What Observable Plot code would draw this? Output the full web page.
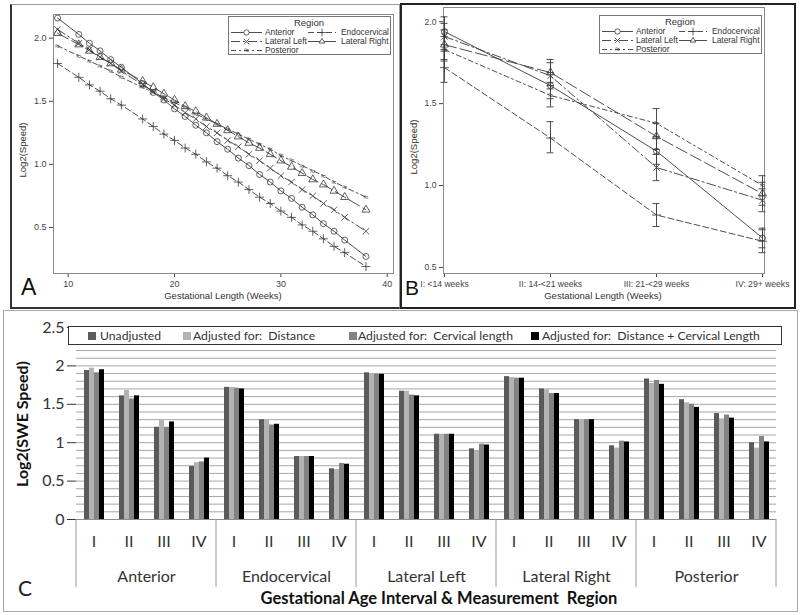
<!DOCTYPE html>
<html><head><meta charset="utf-8">
<script src="https://cdn.jsdelivr.net/npm/d3@7"></script>
<script src="https://cdn.jsdelivr.net/npm/@observablehq/plot@0.6"></script>
<style>
body{margin:0;background:#fff;}
#root{position:relative;width:800px;height:615px;overflow:hidden;background:#fff;font-family:"Liberation Sans",Arial,sans-serif;color:#333;}
.box{position:absolute;box-sizing:border-box;}
.abs{position:absolute;}
.rot{position:absolute;transform:translate(-50%,-50%) rotate(-90deg);white-space:nowrap;}
.ctr{position:absolute;transform:translate(-50%,-50%);white-space:nowrap;}
</style></head><body><div id="root"></div>
<script>
// ---------- Panel A data (fitted log2 speed by gestational week) ----------
const regionNames = ["Anterior","Endocervical","Lateral Left","Lateral Right","Posterior"];
const weeksA = [9,11,12,13,14,15,17,18,19,20,21,22,23,24,25,26,27,28,29,30,31,32,33,34,35,36,38];
const anteriorA     = [2.16,2.03,1.96,1.90,1.83,1.77,1.64,1.57,1.51,1.44,1.38,1.31,1.25,1.18,1.12,1.05,0.99,0.92,0.86,0.79,0.73,0.66,0.60,0.53,0.47,0.40,0.27];
const endocervicalA = [1.80,1.69,1.63,1.58,1.52,1.47,1.36,1.30,1.24,1.19,1.13,1.08,1.02,0.97,0.91,0.86,0.80,0.74,0.69,0.63,0.58,0.52,0.47,0.41,0.35,0.30,0.19];
const lateralLeftA  = [2.07,1.96,1.91,1.85,1.80,1.74,1.63,1.58,1.52,1.47,1.41,1.36,1.30,1.25,1.19,1.14,1.08,1.03,0.97,0.91,0.86,0.80,0.75,0.69,0.64,0.58,0.47];
const lateralRightA = [2.04,1.95,1.90,1.85,1.80,1.75,1.66,1.61,1.56,1.51,1.46,1.42,1.37,1.32,1.27,1.22,1.17,1.13,1.08,1.03,0.98,0.93,0.88,0.84,0.79,0.74,0.64];
const posteriorA    = [1.94,1.86,1.82,1.78,1.74,1.69,1.61,1.57,1.53,1.49,1.45,1.40,1.36,1.32,1.28,1.24,1.20,1.16,1.12,1.07,1.03,0.99,0.95,0.91,0.86,0.82,0.74];
const xTicksA = [10,20,30,40];
const yTicksAB = [0.5,1.0,1.5,2.0];

// ---------- Panel B data (means with confidence limits) ----------
const intervalsB = ["I: <14 weeks","II: 14-<21 weeks","III: 21-<29 weeks","IV: 29+ weeks"];
const anteriorB     = [1.94,1.61,1.21,0.68];
const endocervicalB = [1.72,1.29,0.82,0.66];
const lateralLeftB  = [1.91,1.67,1.11,0.91];
const lateralRightB = [1.86,1.69,1.30,0.95];
const posteriorB    = [1.83,1.55,1.38,1.00];
const anteriorLo     = [1.86,1.53,1.13,0.62];
const anteriorHi     = [2.03,1.69,1.29,0.74];
const endocervicalLo = [1.63,1.20,0.75,0.59];
const endocervicalHi = [1.82,1.39,0.89,0.73];
const lateralLeftLo  = [1.83,1.59,1.03,0.84];
const lateralLeftHi  = [1.99,1.75,1.19,0.98];
const lateralRightLo = [1.77,1.61,1.22,0.88];
const lateralRightHi = [1.95,1.77,1.38,1.02];
const posteriorLo    = [1.76,1.48,1.30,0.94];
const posteriorHi    = [1.91,1.63,1.47,1.06];

// ---------- Panel C data (bar chart) ----------
const intervalsC = ["I","II","III","IV"];
const adjustments = ["Unadjusted","Adjusted for:  Distance","Adjusted for:  Cervical length","Adjusted for:  Distance + Cervical Length"];
const unadjustedC = [1.94,1.61,1.20,0.69, 1.72,1.30,0.82,0.66, 1.91,1.67,1.11,0.92, 1.86,1.70,1.30,0.96, 1.83,1.56,1.38,1.00];
const distanceC   = [1.97,1.68,1.29,0.74, 1.72,1.30,0.82,0.65, 1.90,1.67,1.11,0.89, 1.85,1.69,1.30,0.93, 1.77,1.52,1.31,0.93];
const cervicalC   = [1.91,1.57,1.20,0.75, 1.71,1.23,0.82,0.73, 1.89,1.62,1.11,0.98, 1.84,1.64,1.30,1.02, 1.81,1.50,1.36,1.08];
const bothC       = [1.95,1.61,1.27,0.80, 1.70,1.24,0.82,0.72, 1.89,1.61,1.11,0.97, 1.84,1.64,1.30,1.01, 1.76,1.46,1.32,1.01];
const yTicksC = [0,0.5,1,1.5,2,2.5];
const gridC = [0.1,0.2,0.3,0.4,0.5,0.6,0.7,0.8,0.9,1.0,1.1,1.2,1.3,1.4,1.5,1.6,1.7,1.8,1.9,2.0,2.1,2.2,2.3,2.4,2.5];

// ---------- styles ----------
const seriesStyle = {
  "Anterior":      {dash: null,        symbol: "circle"},
  "Endocervical":  {dash: "6,3",       symbol: "plus"},
  "Lateral Left":  {dash: "9,3,2,3",   symbol: "times"},
  "Lateral Right": {dash: "12,4",      symbol: "triangle"},
  "Posterior":     {dash: "5,3,2,3",   symbol: null}
};
const barColors = ["#5a5a5a","#b3b3b3","#828282","#000000"];
const lineColor = "#3a3a3a";

const root = document.getElementById("root");
function addDiv(cls, css, html){ const d=document.createElement("div"); d.className=cls; Object.assign(d.style, css); d.innerHTML=html; root.appendChild(d); return d; }
function place(el, left, top){ el.style.position="absolute"; el.style.left=left+"px"; el.style.top=top+"px"; root.appendChild(el); }

// panel boxes
addDiv("box", {left:"10px", top:"4px", width:"390px", height:"305px", border:"1px solid #9a9a9a", borderLeft:"2px solid #333", borderBottom:"2px solid #333"}, "");
addDiv("box", {left:"3px", top:"310px", width:"795px", height:"302px", border:"1px solid #a8a8a8"}, "");

// ---------- Panel A ----------
const seriesA = [anteriorA, endocervicalA, lateralLeftA, lateralRightA, posteriorA];
const rowsA = [];
regionNames.forEach((r,i) => weeksA.forEach((w,j) => rowsA.push({region:r, week:w, v:seriesA[i][j]})));

function seriesMarks(rows, xKey){
  const marks = [];
  for (const r of regionNames){
    const data = rows.filter(d => d.region === r);
    marks.push(Plot.line(data, {x:xKey, y:"v", stroke:lineColor, strokeWidth:0.9, strokeDasharray: seriesStyle[r].dash}));
  }
  for (const r of regionNames){
    const data = rows.filter(d => d.region === r);
    if (seriesStyle[r].symbol) {
      marks.push(Plot.dot(data, {x:xKey, y:"v", symbol: seriesStyle[r].symbol, r: 3, stroke:lineColor, strokeWidth:0.8, fill:"none"}));
    } else {
      marks.push(Plot.text(data, {x:xKey, y:"v", text: () => "≈", fontSize: 9, fill: lineColor}));
    }
  }
  return marks;
}

const plotA = Plot.plot({
  width: 388, height: 304, marginLeft: 43, marginRight: 5, marginTop: 10, marginBottom: 35,
  style: {fontFamily: "Liberation Sans, Arial, sans-serif", fontSize: "9px", color: "#444", background: "transparent", overflow: "visible"},
  x: {domain: [8.62, 40.59], ticks: xTicksA, label: null, tickSize: 4, tickPadding: 3},
  y: {domain: [0.135, 2.188], ticks: yTicksAB, tickFormat: d3.format(".1f"), label: null, tickSize: 4, tickPadding: 3},
  marks: [Plot.frame({stroke: "#8a8a8a"}), ...seriesMarks(rowsA, "week")]
});
place(plotA, 10, 4);

// ---------- Panel B ----------
const meansB = [anteriorB, endocervicalB, lateralLeftB, lateralRightB, posteriorB];
const losB = [anteriorLo, endocervicalLo, lateralLeftLo, lateralRightLo, posteriorLo];
const hisB = [anteriorHi, endocervicalHi, lateralLeftHi, lateralRightHi, posteriorHi];
const rowsB = [];
regionNames.forEach((r,i) => intervalsB.forEach((c,j) => rowsB.push({region:r, interval:c, v:meansB[i][j], lo:losB[i][j], hi:hisB[i][j]})));

const plotB = Plot.plot({
  width: 395, height: 304, marginLeft: 43, marginRight: 31, marginTop: 3, marginBottom: 35,
  style: {fontFamily: "Liberation Sans, Arial, sans-serif", fontSize: "8.6px", color: "#444", background: "transparent", overflow: "visible"},
  x: {type: "point", domain: intervalsB, padding: 0, insetLeft: 1, insetRight: 2, label: null, tickSize: 4, tickPadding: 3},
  y: {domain: [0.463, 2.087], ticks: yTicksAB, tickFormat: d3.format(".1f"), label: null, tickSize: 4, tickPadding: 3},
  marks: [
    Plot.frame({stroke: "#8a8a8a"}),
    Plot.ruleX(rowsB, {x:"interval", y1:"lo", y2:"hi", stroke:lineColor, strokeWidth:0.9}),
    Plot.ruleY(rowsB, {y:"lo", x1:"interval", x2:"interval", insetLeft:-3.5, insetRight:-3.5, stroke:lineColor, strokeWidth:0.9}),
    Plot.ruleY(rowsB, {y:"hi", x1:"interval", x2:"interval", insetLeft:-3.5, insetRight:-3.5, stroke:lineColor, strokeWidth:0.9}),
    ...seriesMarks(rowsB, "interval")
  ]
});
place(plotB, 400, 4);
addDiv("box", {left:"400px", top:"3px", width:"396px", height:"306px", border:"2px solid #222"}, "");

// legends for A and B
function drawLegend(left, top){
  const svg = d3.select(root).append("svg").attr("width",163).attr("height",39)
    .style("position","absolute").style("left",left+"px").style("top",top+"px").style("overflow","visible")
    .style("font-family","Liberation Sans, Arial, sans-serif");
  svg.append("rect").attr("x",0.5).attr("y",0.5).attr("width",162).attr("height",38).attr("fill","#fff").attr("stroke","#777");
  svg.append("text").attr("x",81).attr("y",9.5).attr("text-anchor","middle").attr("font-size","9.5px").attr("fill","#333").text("Region");
  const pos = [[0,0],[1,0],[0,1],[1,1],[0,2]];
  const rowsY = [16.5, 25.5, 34.5];
  const symbolTypes = {circle: d3.symbolCircle, plus: d3.symbolPlus, times: d3.symbolTimes, triangle: d3.symbolTriangle2};
  regionNames.forEach((r,i) => {
    const [c,row] = pos[i];
    const x0 = c ? 80 : 3, x1 = c ? 108 : 34, xt = c ? 113 : 37, y = rowsY[row];
    const mx = (x0+x1)/2;
    svg.append("line").attr("x1",x0).attr("x2",x1).attr("y1",y).attr("y2",y).attr("stroke",lineColor).attr("stroke-width",0.9)
      .attr("stroke-dasharray", seriesStyle[r].dash || null);
    const s = seriesStyle[r].symbol;
    if (s) {
      svg.append("path").attr("d", d3.symbol(symbolTypes[s], Math.PI*7)()).attr("transform",`translate(${mx},${y})`)
        .attr("fill","#fff").attr("stroke",lineColor).attr("stroke-width",0.8);
    } else {
      svg.append("text").attr("x",mx).attr("y",y).attr("dy","0.32em").attr("text-anchor","middle").attr("font-size","9px").attr("fill",lineColor).text("≈");
    }
    svg.append("text").attr("x",xt).attr("y",y).attr("dy","0.35em").attr("font-size","8.4px").attr("fill","#333").text(r);
  });
}
drawLegend(228, 16);
drawLegend(599, 15);

// axis titles & panel letters A/B
addDiv("rot", {left:"22px", top:"150px", fontSize:"9.5px", color:"#333"}, "Log2(Speed)");
addDiv("ctr", {left:"223px", top:"295px", fontSize:"9.5px", color:"#333"}, "Gestational Length (Weeks)");
addDiv("rot", {left:"413px", top:"147px", fontSize:"9.5px", color:"#333"}, "Log2(Speed)");
addDiv("ctr", {left:"603px", top:"295px", fontSize:"9.5px", color:"#333"}, "Gestational Length (Weeks)");
addDiv("abs", {left:"21px", top:"276px", fontSize:"23px", lineHeight:"1", color:"#111"}, "A");
addDiv("abs", {left:"405px", top:"277px", fontSize:"21px", lineHeight:"1", color:"#111"}, "B");

// ---------- Panel C ----------
const seriesC = [unadjustedC, distanceC, cervicalC, bothC];
const cellsC = [];
regionNames.forEach(r => intervalsC.forEach(c => cellsC.push({region:r, interval:c, cell:r+"|"+c})));
const rowsC = [];
adjustments.forEach((a,k) => cellsC.forEach((cell,j) => rowsC.push({...cell, adj:a, v:seriesC[k][j]})));
const regionLabelCells = cellsC.filter(d => d.interval === "II");

const plotC = Plot.plot({
  width: 796, height: 303, marginLeft: 66, marginRight: 16, marginTop: 17, marginBottom: 94,
  style: {fontFamily: "Lato, 'Open Sans', sans-serif", fontSize: "16px", color: "#333", background: "transparent", overflow: "visible"},
  fx: {domain: cellsC.map(d => d.cell), padding: 0, axis: null},
  x: {domain: adjustments, paddingInner: 0, paddingOuter: 1.395, axis: null},
  y: {domain: [0, 2.5], ticks: yTicksC, tickFormat: d => String(d), tickSize: 9, tickPadding: 3, label: null},
  color: {domain: adjustments, range: barColors},
  marks: [
    Plot.ruleY(gridC, {stroke: "#a6a6a6", strokeWidth: 1}),
    Plot.barY(rowsC, {fx: "cell", x: "adj", y: "v", fill: "adj"}),
    Plot.ruleY([0], {stroke: "#8c8c8c", strokeWidth: 1}),
    Plot.text(cellsC, {fx: "cell", text: "interval", frameAnchor: "bottom", dy: 27, fontSize: 16, fill: "#333"}),
    Plot.text(regionLabelCells, {fx: "cell", text: "region", frameAnchor: "bottom-right", textAnchor: "middle", dy: 62, fontSize: 16, fill: "#333"})
  ]
});
place(plotC, 3, 310);

// region separators on the category axis, placed with Plot's own fx / y scales
(function(){
  let fxApply, bw, y0;
  try {
    const fxs = plotC.scale("fx");
    const band = d3.scaleBand(fxs.domain, fxs.range).padding(0);
    fxApply = fxs.apply ? (v => fxs.apply(v)) : band;
    bw = fxs.bandwidth != null ? fxs.bandwidth : band.bandwidth();
    const ys = plotC.scale("y");
    y0 = ys.apply(0);
  } catch(e) { return; }
  const svg = d3.select(plotC);
  const xs = regionNames.map(r => fxApply(r + "|I"));
  xs.push(fxApply("Posterior|IV") + bw);
  xs.forEach(x => svg.append("line").attr("x1",x).attr("x2",x).attr("y1",y0).attr("y2",y0+68).attr("stroke","#9a9a9a").attr("stroke-width",1));
})();

// legend C
addDiv("box", {left:"68px", top:"326px", width:"714px", height:"19px", border:"1.5px solid #333", background:"#fff"}, "");
const legX = [[88,100],[183,193],[349,358],[531,542]];
adjustments.forEach((a,k) => {
  addDiv("abs", {left:legX[k][0]+"px", top:"332px", width:"8px", height:"8px", background:barColors[k]}, "");
  addDiv("abs", {left:legX[k][1]+"px", top:"327px", fontFamily:"Lato, sans-serif", fontSize:"12.2px", lineHeight:"17px", color:"#333", whiteSpace:"pre"}, a);
});

// C titles
addDiv("rot", {left:"21px", top:"424px", fontFamily:"Lato, sans-serif", fontSize:"16px", fontWeight:"bold", color:"#111"}, "Log2(SWE Speed)");
addDiv("ctr", {left:"439px", top:"598px", fontFamily:"Lato, sans-serif", fontSize:"16.5px", fontWeight:"bold", color:"#111"}, "Gestational Age Interval &amp; Measurement&nbsp; Region");
addDiv("abs", {left:"18px", top:"577px", fontFamily:"Lato, sans-serif", fontSize:"21px", lineHeight:"1", color:"#222"}, "C");
</script></body></html>
